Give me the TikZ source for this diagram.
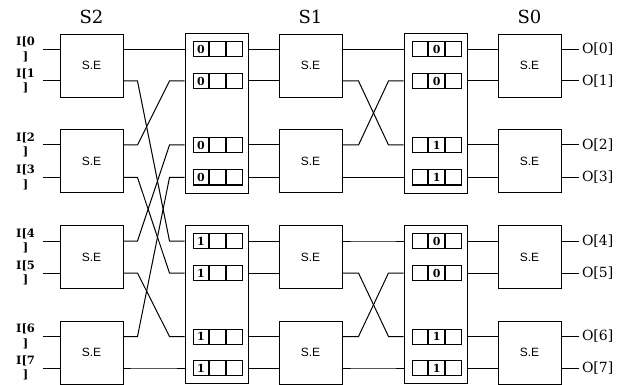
\documentclass[tikz,border=0pt]{standalone}
\usepackage{fontspec}
\setmainfont{DejaVu Serif}
\newfontfamily\sefont{Liberation Sans}
\usetikzlibrary{positioning,calc}

\tikzset{
  sebox/.style = {draw, line width=1pt, minimum width=63pt, minimum height=63pt,
                  inner sep=0pt, font=\sefont\fontsize{12}{14}\selectfont},
  regbox/.style = {draw, line width=1pt, minimum width=63pt, inner sep=0pt},
  cell/.style = {draw, line width=1pt, minimum width=15.7pt, minimum height=15pt,
                 inner sep=0pt, font=\bfseries\fontsize{11}{12}\selectfont},
  wire/.style = {line width=1pt},
  hdr/.style = {inner sep=0pt, font=\fontsize{18}{20}\selectfont},
  inlbl/.style = {left, align=center, inner xsep=7pt, inner ysep=0pt,
                  font=\bfseries\fontsize{11.5}{14.5}\selectfont},
  outlbl/.style = {right, inner sep=3pt, font=\fontsize{14}{16}\selectfont},
}

\begin{document}
\begin{tikzpicture}[x=1pt, y=-1pt]
  \useasboundingbox (0,0) rectangle (624,385);

  % port heights
  \foreach \i/\y in {0/49.5, 1/81, 2/145, 3/177.5, 4/241, 5/273, 6/336.5, 7/368}
    \coordinate (p\i) at (0,\y);

  % switching elements, stages S2, S1, S0
  \foreach \k/\y in {0/65.8, 1/161.3, 2/257, 3/352.5} {
    \node[sebox] (a\k) at (91.5,\y) {S.E};
    \node[sebox] (b\k) at (310.5,\y) {S.E};
    \node[sebox] (c\k) at (529.5,\y) {S.E};
  }
  \node[hdr, above=10pt of a0] (h2) {S2};
  \node[hdr, above=10pt of b0] (h1) {S1};
  \node[hdr, above=10pt of c0] (h0) {S0};

  % register blocks
  \node[regbox, minimum height=159pt] (ra0) at (216.5,113.5) {};
  \node[regbox, minimum height=158pt] (ra1) at (216.5,304) {};
  \node[regbox, minimum height=159pt] (rb0) at (435.5,113.5) {};
  \node[regbox, minimum height=158pt] (rb1) at (435.5,304) {};

  \foreach \i/\y/\va/\vb in {0/49.5/0/0, 1/81/0/0, 2/145/0/1, 3/177.5/0/1,
                             4/241/1/0, 5/273/1/0, 6/336.5/1/1, 7/368/1/1} {
    \node[cell] (ua\i) at (200.9,\y) {\va};
    \node[cell, right=0pt of ua\i] (ub\i) {};
    \node[cell, right=0pt of ub\i] (uc\i) {};
    \node[cell] (va\i) at (419.9,\y) {};
    \node[cell, right=0pt of va\i] (vb\i) {\vb};
    \node[cell, right=0pt of vb\i] (vc\i) {};
  }

  % inputs and outputs
  \foreach \i/\k in {0/0, 1/0, 2/1, 3/1, 4/2, 5/2, 6/3, 7/3} {
    \draw[wire] (a\k.west |- p\i) -- ++(-17,0) node[inlbl] {I[\i\\]};
    \draw[wire] (c\k.east |- p\i) -- ++(17,0) node[outlbl] {O[\i]};
  }

  % S2 -> first registers (shuffle)
  \foreach \i/\k/\j/\r in {0/0/0/ra0, 1/0/4/ra1, 2/1/1/ra0, 3/1/5/ra1,
                           4/2/2/ra0, 5/2/6/ra1, 6/3/3/ra0, 7/3/7/ra1}
    \draw[wire] (a\k.east |- p\i) -- ++(14,0) -- ($(\r.west |- p\j)+(-15,0)$)
      -- (\r.west |- p\j);

  % first registers -> S1
  \foreach \i/\k/\r in {0/0/ra0, 1/0/ra0, 2/1/ra0, 3/1/ra0,
                        4/2/ra1, 5/2/ra1, 6/3/ra1, 7/3/ra1}
    \draw[wire] (\r.east |- p\i) -- (b\k.west |- p\i);

  % S1 -> second registers
  \foreach \i/\k/\j/\r in {0/0/0/rb0, 1/0/2/rb0, 2/1/1/rb0, 3/1/3/rb0,
                           4/2/4/rb1, 5/2/6/rb1, 6/3/5/rb1, 7/3/7/rb1}
    \draw[wire] (b\k.east |- p\i) -- ++(16,0) -- ($(\r.west |- p\j)+(-15,0)$)
      -- (\r.west |- p\j);

  % second registers -> S0
  \foreach \i/\k/\r in {0/0/rb0, 1/0/rb0, 2/1/rb0, 3/1/rb0,
                        4/2/rb1, 5/2/rb1, 6/3/rb1, 7/3/rb1}
    \draw[wire] (\r.east |- p\i) -- (c\k.west |- p\i);
\end{tikzpicture}
\end{document}
